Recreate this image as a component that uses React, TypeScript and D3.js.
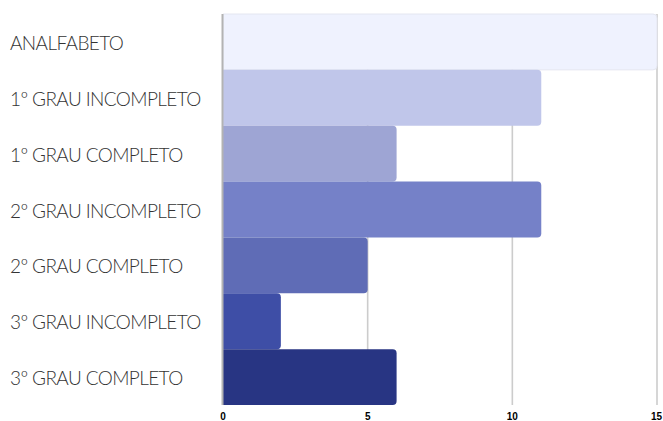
import React from "react";
import * as d3 from "d3";

const categories = [
  "ANALFABETO",
  "1º GRAU INCOMPLETO",
  "1º GRAU COMPLETO",
  "2º GRAU INCOMPLETO",
  "2º GRAU COMPLETO",
  "3º GRAU INCOMPLETO",
  "3º GRAU COMPLETO",
];
const values = [15, 11, 6, 11, 5, 2, 6];
const barColors = ["#eff2fe", "#c0c6ea", "#9ea5d4", "#7581c8", "#5f6cb6", "#3e4ea6", "#283583"];
const ticks = [0, 5, 10, 15];

const W = 663;
const H = 421;

// Bar anchored on the axis, rounded on its two right-hand corners only
function barPath(x0: number, y0: number, x1: number, y1: number, r: number) {
  const rr = Math.min(r, (x1 - x0) / 2, (y1 - y0) / 2);
  return `M${x0},${y0}H${x1 - rr}Q${x1},${y0} ${x1},${y0 + rr}V${y1 - rr}Q${x1},${y1} ${x1 - rr},${y1}H${x0}Z`;
}

export default function App() {
  const x = d3.scaleLinear().domain([0, 15]).range([223, 657]);
  const y = d3.scaleBand<string>().domain(categories).range([14, 405]).padding(0);

  return (
    <div style={{ position: "fixed", left: 0, top: 0, width: W, height: H, background: "#fff" }}>
      <svg width={W} height={H} style={{ display: "block" }}>
        {ticks.slice(1).map((t) => (
          <line key={t} x1={x(t)} x2={x(t)} y1={14} y2={405} stroke="#cccccc" strokeWidth={1.6} />
        ))}
        {categories.map((c, i) => (
          <path
            key={c}
            d={barPath(x(0), y(c)!, x(values[i]), y(c)! + y.bandwidth(), 4)}
            fill={barColors[i]}
            stroke={i === 0 ? "#e4e6f0" : "none"}
            strokeWidth={i === 0 ? 1 : 0}
          />
        ))}
        <line x1={222.5} x2={222.5} y1={14} y2={405} stroke="#b3b3b3" strokeWidth={2} />
        {categories.map((c) => (
          <text
            key={c}
            x={10}
            y={y(c)! + y.bandwidth() / 2 + 8}
            fontFamily="Lato"
            fontWeight={300}
            fontSize={19}
            fill="#333"
            style={{ letterSpacing: "-0.6px" }}
          >
            {c}
          </text>
        ))}
        {ticks.map((t, i) => (
          <text
            key={t}
            x={x(t)}
            y={419.5}
            textAnchor={i === ticks.length - 1 ? "end" : "middle"}
            dx={i === ticks.length - 1 ? 5 : 0}
            fontFamily="Liberation Sans"
            fontWeight="bold"
            fontSize={10}
            fill="#000"
          >
            {t}
          </text>
        ))}
      </svg>
    </div>
  );
}
